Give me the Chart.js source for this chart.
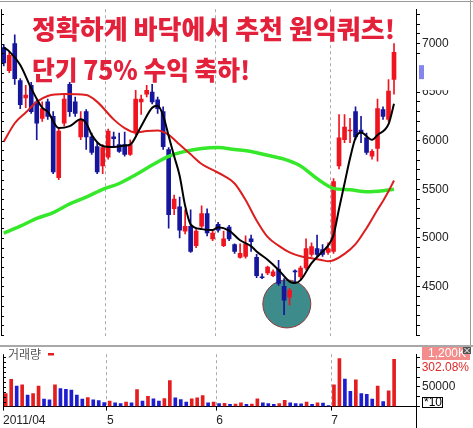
<!DOCTYPE html>
<html lang="ko">
<head>
<meta charset="UTF-8">
<title>원익쿼츠 일봉</title>
<script src="https://cdn.jsdelivr.net/npm/chart.js"></script>
<style>
  html, body { margin: 0; padding: 0; background: #fff; overflow: hidden; }
  .wrap { position: relative; width: 473px; height: 428px; overflow: hidden; }
  #priceChart { position: absolute; left: 0; top: 0; }
  #volumeChart { position: absolute; left: 0; top: 345px; }
</style>
</head>
<body>
<div class="wrap">
  <canvas id="priceChart" width="473" height="345"></canvas>
  <canvas id="volumeChart" width="473" height="86"></canvas>
</div>
<script>
// 월 시작 봉 번호와 축 라벨
const monthStarts = [0, 19, 39, 60];
const monthLabels = ['2011/04', '5', '6', '7'];

// 일봉 (2011/04 ~ 2011/07)
const opens  = [6960,6720,7000,6620,6440,6570,6400,6230,6400,6250,5620,6180,6580,6400,6040,6300,6040,5940,5740,5830,
                6040,5960,5960,5860,6080,6400,6480,6500,6420,6300,5910,5300,5320,5070,5120,4920,5120,5250,4990,5140,
                4920,5110,4930,4800,4810,4990,4800,4600,4640,4610,4680,4500,4390,4660,4600,4690,4830,4890,4880,4850,
                4860,5740,6010,6100,6300,6110,6030,5840,5920,6320,6220,6630];
const highs  = [6990,6910,7090,6640,6570,6600,6430,6400,6430,6300,6120,6480,6600,6450,6300,6320,6080,5980,5960,6120,
                6090,6080,6090,6010,6520,6470,6570,6580,6450,6350,5930,5440,5420,5290,5290,5100,5330,5300,5070,5160,
                5070,5130,4940,4940,5020,5030,4830,4630,4710,4670,4770,4580,4480,4670,4710,4990,4950,5030,4930,4950,
                5610,6270,6270,6230,6350,6250,6080,5910,6430,6350,6630,7000];
const lows   = [6770,6700,6580,6330,6340,6280,6010,6200,6220,5660,5600,6150,6250,6250,6010,5910,5860,5660,5660,5810,
                5940,5880,5840,5850,6060,6270,6450,6380,6280,5910,5100,5240,5000,5040,4850,4900,5100,5020,4970,5060,
                4910,4970,4840,4790,4790,4860,4590,4580,4620,4600,4510,4210,4310,4550,4580,4670,4810,4810,4810,4830,
                4840,5710,5980,5980,6010,5980,5860,5810,5790,6220,6200,6480];
const closes = [6800,6880,6640,6370,6470,6300,6180,6330,6250,5680,6100,6430,6300,6280,6220,6040,5880,5680,5930,6100,
                6020,5890,5860,5960,6430,6430,6520,6400,6330,5940,5240,5400,5080,5120,4860,5070,5250,5050,5050,5080,
                4990,4990,4860,4840,4940,4960,4610,4590,4700,4650,4530,4360,4460,4650,4690,4890,4910,4830,4830,4890,
                5580,6030,6140,6110,6040,6090,5880,5890,6330,6250,6510,6910];
const volumes = [33000,69000,52000,55000,29000,33000,52000,19000,17000,55000,46000,44000,42000,29000,19000,23000,17000,15000,10000,14000,
                 9500,7500,11500,9500,43000,14000,26000,20000,14000,20500,66000,22000,18000,11500,20000,22000,28000,9500,11500,7500,
                 8000,5500,6500,9500,5500,6500,20000,9500,7500,5500,7500,16000,9500,7500,7000,11500,5500,9500,9000,2500,
                 55000,122000,70000,39000,68000,33000,31000,19000,52000,13000,40000,120000];

// 이동평균선
const ma5Days    = [0,1,3,5,7,8,10,12,14,15,16,18,20,22,23,25,27,28,29,30,31,32,33,34,36,38,39,41,43,45,46,48,50,52,53,54,56,58,59,60,61,62,63,64,65,67,68,70,71];
const ma5Values  = [6960,6920,6780,6540,6340,6300,6130,6150,6220,6180,6060,5945,5935,5950,5960,6150,6340,6360,6260,6050,5840,5640,5330,5140,5090,5080,5110,5075,4975,4915,4860,4775,4670,4550,4535,4565,4740,4860,4920,5030,5300,5560,5820,6030,6085,6010,6060,6170,6380];
const ma20Days   = [0,2,4,6,8,11,15,17,20,22,24,26,28,30,32,34,36,38,40,42,44,46,48,50,52,54,56,58,59,60,62,64,66,68,69,70,71];
const ma20Values = [5990,6180,6290,6400,6460,6480,6470,6400,6220,6130,6085,6100,6105,6060,5960,5860,5760,5700,5640,5560,5390,5180,5010,4920,4850,4810,4790,4770,4760,4770,4835,4935,5100,5290,5380,5480,5590];
const ma60Days   = [0,3,6,9,12,15,18,21,24,27,30,33,36,39,42,45,48,51,54,57,60,63,66,69,71];
const ma60Values = [5050,5120,5200,5260,5350,5420,5500,5560,5650,5750,5840,5890,5920,5930,5910,5890,5850,5810,5740,5610,5510,5495,5475,5485,5500];

// 바닥 표시 원 위치 (봉 번호, 가격)
const circleDay = 51.5;
const circlePrice = 4320;

const headline1 = '정확하게 바닥에서 추천 원익쿼츠!';
const headline2 = '단기 75% 수익 축하!';

const UP = '#f0141e', DOWN = '#16169c';
const VUP = '#e41e1e', VDOWN = '#1e1ed0';

Chart.defaults.font.family = '"Liberation Sans", Arial, sans-serif';
Chart.defaults.font.size = 12;

const days = closes.map((_, i) => i);
const candleColors = days.map(i => closes[i] >= opens[i] ? UP : DOWN);
const volColors = days.map(i => (i === 0 || volumes[i] >= volumes[i - 1]) ? VUP : VDOWN);
const monthTicks = s => { s.ticks = monthStarts.map(m => ({ value: m - 0.5 })); };
const hideFirst = (c) => c.index === 0 ? 'rgba(0,0,0,0)' : '#ababab';

const priceDecor = {
  id: 'priceDecor',
  beforeDatasetsDraw(chart) {
    const { ctx, scales: { x, y } } = chart;
    ctx.save();
    ctx.beginPath();
    ctx.arc(x.getPixelForValue(circleDay), y.getPixelForValue(circlePrice), 24, 0, Math.PI * 2);
    ctx.fillStyle = '#3e8b8b';
    ctx.fill();
    ctx.lineWidth = 1;
    ctx.strokeStyle = '#8c3a3a';
    ctx.stroke();
    ctx.restore();
  },
  afterDraw(chart) {
    const { ctx, chartArea: a, scales: { y } } = chart;
    ctx.save();
    ctx.strokeStyle = '#000';
    ctx.lineWidth = 1;
    ctx.beginPath();
    ctx.moveTo(a.left + 0.5, a.top);
    ctx.lineTo(a.left + 0.5, a.bottom);
    for (let v = 4000; v <= 7300; v += 100) {
      const py = Math.round(y.getPixelForValue(v)) + 0.5;
      ctx.moveTo(a.left, py);
      ctx.lineTo(a.left + 3, py);
    }
    ctx.stroke();
    ctx.strokeStyle = '#9a9a9a';
    ctx.beginPath();
    ctx.moveTo(0, 1.5); ctx.lineTo(chart.width, 1.5);
    ctx.moveTo(470.5, 0); ctx.lineTo(470.5, chart.height);
    ctx.stroke();
    // 6500 라벨 위를 가리는 상자
    const p65 = y.getPixelForValue(6500);
    ctx.fillStyle = '#fff';
    ctx.fillRect(a.right + 1, p65 - 30, 45, 28);
    ctx.fillStyle = '#8585ee';
    ctx.fillRect(a.right + 3, p65 - 27, 5, 14);
    ctx.fillStyle = '#e3213b';
    ctx.font = '900 26px "Noto Sans CJK KR", sans-serif';
    ctx.textBaseline = 'middle';
    ctx.fillText(headline1, 32, 29, 363);
    ctx.fillText(headline2, 32, 70, 218);
    ctx.restore();
  }
};

new Chart(document.getElementById('priceChart'), {
  data: {
    datasets: [
      { type: 'line', data: ma5Days.map((d, k) => ({ x: d, y: ma5Values[k] })), borderColor: '#000', borderWidth: 2, pointRadius: 0, tension: 0.4, cubicInterpolationMode: 'monotone', order: 0 },
      { type: 'line', data: ma20Days.map((d, k) => ({ x: d, y: ma20Values[k] })), borderColor: '#dc1e1e', borderWidth: 2, pointRadius: 0, tension: 0.4, cubicInterpolationMode: 'monotone', order: 1 },
      { type: 'line', data: ma60Days.map((d, k) => ({ x: d, y: ma60Values[k] })), borderColor: '#36e82a', borderWidth: 3.5, pointRadius: 0, tension: 0.4, cubicInterpolationMode: 'monotone', order: 2 },
      { type: 'bar', data: days.map(i => ({ x: i, y: [opens[i], closes[i]] })), backgroundColor: candleColors, barThickness: 4, minBarLength: 1, grouped: false, order: 3 },
      { type: 'bar', data: days.map(i => ({ x: i, y: [lows[i], highs[i]] })), backgroundColor: candleColors, barThickness: 1, grouped: false, order: 4 }
    ]
  },
  options: {
    responsive: false, animation: false, devicePixelRatio: 1,
    layout: { padding: { left: 1, top: 3, right: 0, bottom: 0 } },
    plugins: { legend: { display: false }, tooltip: { enabled: false } },
    scales: {
      x: {
        type: 'linear', min: -0.5, max: 75, offset: false,
        afterBuildTicks: monthTicks,
        ticks: { display: false },
        grid: { color: hideFirst, drawTicks: false, offset: false },
        border: { display: false, dash: [3, 3] }
      },
      y: {
        position: 'right', min: 3992, max: 7354,
        afterBuildTicks: s => { s.ticks = []; for (let v = 4000; v <= 7300; v += 100) s.ticks.push({ value: v }); },
        afterFit: s => { s.width = 57; },
        ticks: { autoSkip: false, padding: 2, color: '#222', callback: v => (v % 500 === 0 && v >= 4500) ? String(v) : '' },
        grid: { drawOnChartArea: false, tickLength: 4, color: '#000' },
        border: { display: true, color: '#000' }
      }
    }
  },
  plugins: [priceDecor]
});

const volumeDecor = {
  id: 'volumeDecor',
  afterDraw(chart) {
    const { ctx, chartArea: a, scales: { y } } = chart;
    ctx.save();
    ctx.strokeStyle = '#a8a8a8';
    ctx.lineWidth = 2;
    ctx.beginPath(); ctx.moveTo(0, 1); ctx.lineTo(chart.width, 1); ctx.stroke();
    ctx.strokeStyle = '#000';
    ctx.lineWidth = 1;
    ctx.beginPath();
    ctx.moveTo(a.left + 0.5, a.top); ctx.lineTo(a.left + 0.5, a.bottom);
    for (let v = 12500; v <= 125000; v += 12500) {
      const py = Math.round(y.getPixelForValue(v)) + 0.5;
      ctx.moveTo(a.left, py); ctx.lineTo(a.left + 3, py);
    }
    ctx.moveTo(Math.round(a.right) + 0.5, a.bottom); ctx.lineTo(Math.round(a.right) + 0.5, chart.height);
    ctx.stroke();
    ctx.textBaseline = 'middle';
    ctx.fillStyle = '#555';
    ctx.font = '12px "Noto Sans CJK KR", sans-serif';
    ctx.fillText('거래량', 8, 9);
    ctx.fillStyle = '#e02020';
    ctx.fillRect(48, 8, 6, 2.5);
    ctx.fillStyle = '#f48c8c';
    ctx.fillRect(a.right + 6, 2, 48, 13);
    ctx.fillStyle = '#fff';
    ctx.font = '12px "Liberation Sans", Arial, sans-serif';
    ctx.textAlign = 'right';
    ctx.fillText('1,200K', 466, 9);
    ctx.fillStyle = '#555';
    ctx.fillRect(463, 2, 8, 7);
    ctx.strokeStyle = '#fff';
    ctx.beginPath(); ctx.moveTo(464.5, 3); ctx.lineTo(469.5, 8); ctx.moveTo(469.5, 3); ctx.lineTo(464.5, 8); ctx.stroke();
    ctx.fillStyle = '#e02828';
    ctx.fillText('302.08%', 469, 23);
    ctx.textAlign = 'left';
    ctx.fillStyle = '#000';
    ctx.strokeStyle = '#000';
    ctx.strokeRect(a.right + 6.5, 52.5, 20, 10);
    ctx.fillText('*10', a.right + 8, 58);
    ctx.restore();
  }
};

new Chart(document.getElementById('volumeChart'), {
  type: 'bar',
  data: {
    datasets: [{ data: days.map(i => ({ x: i, y: volumes[i] })), backgroundColor: volColors, barThickness: 3, grouped: false }]
  },
  options: {
    responsive: false, animation: false, devicePixelRatio: 1,
    layout: { padding: { left: 1, top: 2, right: 0, bottom: 0 } },
    plugins: { legend: { display: false }, tooltip: { enabled: false } },
    scales: {
      x: {
        type: 'linear', min: -0.5, max: 75, offset: false,
        afterBuildTicks: monthTicks,
        ticks: { autoSkip: false, maxRotation: 0, align: 'start', padding: 3, color: '#222', callback: (v, i) => monthLabels[i] },
        grid: { color: hideFirst, tickColor: '#000', tickLength: 4, offset: false },
        border: { display: true, color: '#000', dash: [3, 3] }
      },
      y: {
        position: 'right', min: 0, max: 133000,
        afterBuildTicks: s => { s.ticks = [0, 25000, 50000, 75000, 100000, 125000].map(v => ({ value: v })); },
        afterFit: s => { s.width = 57; },
        ticks: { autoSkip: false, padding: 2, color: '#222', callback: v => v === 50000 ? '50000' : '' },
        grid: { drawOnChartArea: false, tickLength: 4, color: '#000' },
        border: { display: true, color: '#000' }
      }
    }
  },
  plugins: [volumeDecor]
});
</script>
</body>
</html>
